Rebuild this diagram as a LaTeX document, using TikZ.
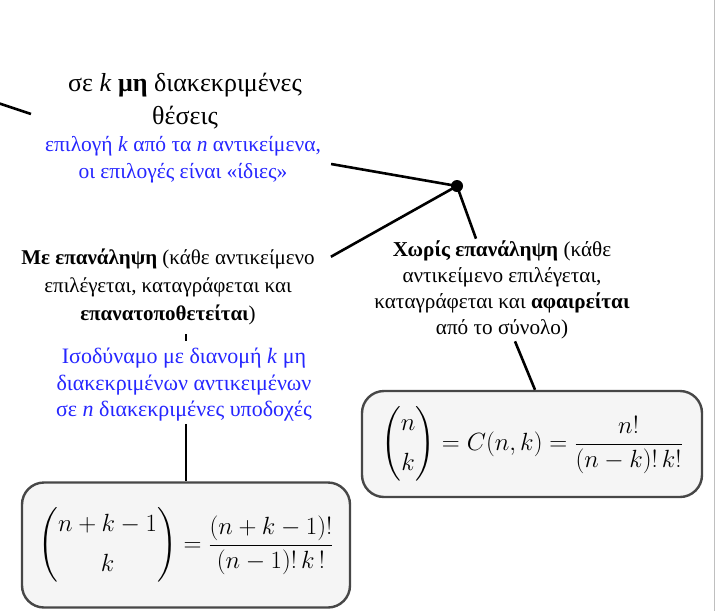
\documentclass[tikz,border=0pt]{standalone}
\usepackage{amsmath}
\usepackage{fontspec}
\setmainfont{Liberation Serif}
\usepackage{tikz}
\usetikzlibrary{positioning}
\tikzset{
  blacktxt/.style={align=center, inner sep=2pt, text=black, font=\fontsize{21}{28}\selectfont},
  bluetxt/.style={align=center, inner sep=2pt, text=blue!85!white, font=\fontsize{21.5}{27}\selectfont},
  formbox/.style={rectangle, rounded corners=22pt, draw=black!72, line width=2.4pt, fill=black!4, align=center, inner sep=4pt},
  link/.style={line width=2.6pt, draw=black},
  hub/.style={circle, fill=black, inner sep=0pt, minimum size=12pt},
}

\begin{document}
\begin{tikzpicture}[x=1pt, y=-1pt]
  \useasboundingbox (0,0) rectangle (715,611);
  \node[blacktxt, font=\fontsize{26}{33}\selectfont] (choose) at (185,101) {σε \textit{k} \textbf{μη} διακεκριμένες\\θέσεις};
  \node[bluetxt] (same) at (183,160) {επιλογή \textit{k} από τα \textit{n} αντικείμενα,\\οι επιλογές είναι «ίδιες»};
  \node[hub] (dot) at (457,186) {};
  \node[blacktxt] (withrep) at (168,287) {\textbf{Με επανάληψη} (κάθε αντικείμενο\\επιλέγεται, καταγράφεται και\\\textbf{επανατοποθετείται})};
  \node[bluetxt, font=\fontsize{22}{26.5}\selectfont] (boxes) at (184,385) {Ισοδύναμο με διανομή \textit{k} μη\\διακεκριμένων αντικειμένων\\σε \textit{n} διακεκριμένες υποδοχές};
  \node[blacktxt, font=\fontsize{21.2}{26}\selectfont] (norep) at (502,290) {\textbf{Χωρίς επανάληψη} (κάθε\\αντικείμενο επιλέγεται,\\καταγράφεται και \textbf{αφαιρείται}\\από το σύνολο)};
  \node[formbox, minimum width=328pt, minimum height=125pt] (repform) at (186,545)
    {\fontsize{24}{30}\selectfont $\displaystyle \left(\begin{matrix} n+k-1\\[10pt] k\end{matrix}\right)=\frac{(n+k-1)!}{(n-1)!\,k\,!}$};
  \node[formbox, minimum width=340pt, minimum height=106pt] (norepform) at (532,444)
    {\fontsize{24}{30}\selectfont $\displaystyle \left(\begin{matrix} n\\[10pt] k\end{matrix}\right)=C(n,k)=\frac{n!}{(n-k)!\,k!}$};
  \coordinate (offleft) at (-2,103);
  % connectors
  \draw[link] (offleft) -- ([shift={(-35,13)}]choose.west);
  \draw[link] (dot.center) -- ([shift={(8,4)}]same.east);
  \draw[link] (dot.center) -- ([shift={(14,10)}]withrep.north east);
  \draw[link] (dot.center) -- ([xshift=-26]norep.north);
  \draw[link] ([xshift=13]norep.south) -- ([xshift=3]norepform.north);
  \draw[link] (boxes.south -| repform.north) -- (repform.north);
  \draw[link, line width=2pt] ([yshift=12]boxes.north -| repform.north) -- ([yshift=5]boxes.north -| repform.north);
  \draw[black!25, line width=1pt] (714,0) -- (714,611);
\end{tikzpicture}
\end{document}
